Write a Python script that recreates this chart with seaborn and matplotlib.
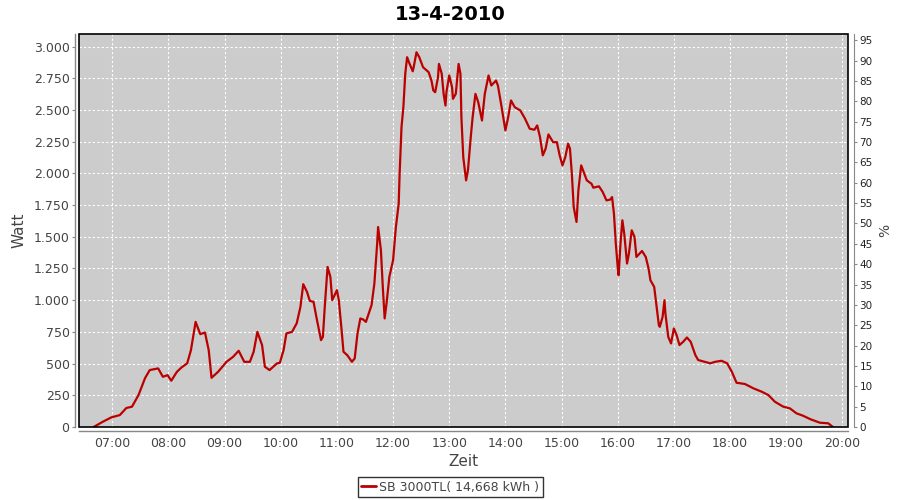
import pandas as pd
import seaborn as sns
import matplotlib.pyplot as plt
import matplotlib.dates as mdates
from matplotlib.patches import Rectangle
from matplotlib.lines import Line2D

# inverter output
times = [
    "06:40", "06:50", "06:59", "07:08", "07:15", "07:21", "07:28", "07:35", "07:40", "07:49",
    "07:54", "07:59", "08:03", "08:09", "08:14", "08:20", "08:24", "08:29", "08:34", "08:39",
    "08:43", "08:46", "08:53", "09:02", "09:09", "09:15", "09:21", "09:27", "09:31", "09:35",
    "09:40", "09:43", "09:48", "09:56", "09:59", "10:03", "10:06", "10:12", "10:17", "10:21",
    "10:24", "10:28", "10:31", "10:35", "10:38", "10:43", "10:45", "10:47", "10:50", "10:53",
    "10:55", "11:00", "11:02", "11:05", "11:07", "11:11", "11:16", "11:19", "11:22", "11:25",
    "11:28", "11:31", "11:34", "11:37", "11:40", "11:43", "11:44", "11:47", "11:49", "11:51",
    "11:53", "11:56", "12:00", "12:03", "12:06", "12:07", "12:09", "12:11", "12:13", "12:15",
    "12:17", "12:21", "12:22", "12:25", "12:28", "12:32", "12:38", "12:41", "12:43", "12:45",
    "12:48", "12:49", "12:52", "12:54", "12:56", "12:57", "13:00", "13:03", "13:04", "13:07",
    "13:10", "13:12", "13:13", "13:15", "13:18", "13:20", "13:23", "13:25", "13:28", "13:31",
    "13:35", "13:38", "13:42", "13:45", "13:50", "13:52", "13:56", "14:00", "14:03", "14:06",
    "14:10", "14:16", "14:21", "14:26", "14:31", "14:34", "14:37", "14:40", "14:43", "14:46",
    "14:51", "14:55", "14:58", "15:01", "15:04", "15:07", "15:09", "15:11", "15:13", "15:16",
    "15:18", "15:21", "15:23", "15:27", "15:32", "15:34", "15:40", "15:44", "15:48", "15:52",
    "15:54", "15:56", "15:58", "16:00", "16:01", "16:03", "16:05", "16:07", "16:10", "16:12",
    "16:15", "16:18", "16:20", "16:26", "16:30", "16:33", "16:35", "16:39", "16:42", "16:44",
    "16:45", "16:48", "16:50", "16:51", "16:54", "16:57", "17:00", "17:03", "17:06", "17:10",
    "17:14", "17:18", "17:23", "17:26", "17:33", "17:39", "17:44", "17:51", "17:57", "18:02",
    "18:07", "18:16", "18:25", "18:34", "18:41", "18:48", "18:57", "19:04", "19:11", "19:18",
    "19:26", "19:36", "19:45", "19:50",
]
watt = [
    0, 42, 76, 94, 150, 160, 252, 386, 449, 462,
    396, 409, 365, 435, 470, 502, 606, 829, 732, 745,
    606, 388, 435, 514, 553, 601, 514, 514, 593, 750,
    646, 475, 449, 502, 506, 606, 738, 750, 817, 947,
    1126, 1066, 995, 987, 869, 685, 711, 947, 1262, 1183,
    1000, 1079, 1000, 764, 593, 567, 514, 541, 738, 856,
    848, 829, 895, 961, 1131, 1446, 1577, 1394, 1105, 856,
    974, 1183, 1315, 1577, 1761, 1998, 2365, 2522, 2785, 2916,
    2876, 2805, 2837, 2955, 2916, 2837, 2798, 2732, 2654, 2640,
    2758, 2863, 2785, 2627, 2535, 2640, 2772, 2680, 2588, 2627,
    2863, 2785, 2443, 2128, 1945, 2024, 2286, 2443, 2627, 2561,
    2417, 2627, 2772, 2693, 2732, 2693, 2522, 2339, 2443, 2575,
    2522, 2496, 2431, 2352, 2344, 2378, 2286, 2142, 2195, 2307,
    2246, 2246, 2142, 2063, 2128, 2234, 2195, 1998, 1735, 1617,
    1866, 2063, 2024, 1945, 1918, 1887, 1898, 1853, 1787, 1793,
    1813, 1683, 1446, 1262, 1197, 1446, 1630, 1525, 1289, 1368,
    1551, 1498, 1341, 1388, 1341, 1250, 1157, 1105, 921, 803,
    790, 869, 1000, 895, 711, 659, 777, 724, 646, 672,
    706, 672, 567, 528, 514, 502, 514, 522, 502, 435,
    349, 339, 305, 278, 252, 199, 160, 147, 108, 89,
    61, 34, 29, 0,
]
watt_ticks = list(range(0, 3001, 250))
pct_ticks = list(range(0, 96, 5))
day = "2010-04-13"
title = "13-4-2010"
series_label = "SB 3000TL( 14,668 kWh )"

df = pd.DataFrame({"time": pd.to_datetime([day + " " + t for t in times]),
                   "watt": watt})

sns.set_style("white")
plt.rcParams["font.family"] = ["DejaVu Sans"]

grey_txt = "#444444"
axis_grey = "#888888"
red = "#BB0000"

fig = plt.figure(figsize=(9, 5), dpi=100)
ax = fig.add_axes([79.3 / 900, 1 - 427 / 500, (848.3 - 79.3) / 900, (427 - 34) / 500])
ax.set_facecolor("#CCCCCC")

sns.lineplot(data=df, x="time", y="watt", ax=ax, color=red, linewidth=1.6,
             legend=False, zorder=3)

ymax = 3099
ax.set_ylim(0, ymax)
ax.set_xlim(pd.Timestamp(day + " 06:24:43"), pd.Timestamp(day + " 20:06:25"))
ax.set_yticks(watt_ticks)
ax.set_yticklabels([f"{v:,.0f}".replace(",", ".") for v in watt_ticks])
ax.xaxis.set_major_locator(mdates.HourLocator())
ax.xaxis.set_major_formatter(mdates.DateFormatter("%H:%M"))

ax.grid(True, color="white", linestyle=(0, (2, 2)), linewidth=0.8)
ax.set_axisbelow(True)

for side in ["top", "right"]:
    ax.spines[side].set_visible(False)
for side in ["left", "bottom"]:
    ax.spines[side].set_position(("outward", 3))
    ax.spines[side].set_color(axis_grey)
    ax.spines[side].set_linewidth(1)
ax.tick_params(axis="both", length=2, width=0.8, color=axis_grey,
               labelsize=9, labelcolor=grey_txt, pad=2)
ax.set_xlabel("Zeit", fontsize=11, color=grey_txt, labelpad=3)
ax.set_ylabel("Watt", fontsize=11, color=grey_txt, labelpad=5)

# black plot outline
ax.add_patch(Rectangle((0, 0), 1, 1, transform=ax.transAxes, fill=False,
                       edgecolor="black", linewidth=1.2, zorder=5, clip_on=False))

# percentage axis on the right
ax2 = ax.twinx()
ax2.set_ylim(0, ymax / 32.1)
ax2.set_yticks(pct_ticks)
for side in ["top", "left", "bottom"]:
    ax2.spines[side].set_visible(False)
ax2.spines["right"].set_position(("outward", 4))
ax2.spines["right"].set_color(axis_grey)
ax2.tick_params(axis="y", length=2, width=0.8, color=axis_grey,
                labelsize=7.5, labelcolor="#222222", pad=2)
ax2.set_ylabel("%", fontsize=10, color=grey_txt, labelpad=4)

fig.text(0.5, 1 - 14 / 500, title, ha="center", va="center",
         fontsize=14, fontweight="bold", color="black")

handle = Line2D([], [], color=red, linewidth=2)
leg = fig.legend([handle], [series_label], loc="center",
                 bbox_to_anchor=(450 / 900, 1 - 487 / 500), frameon=True,
                 fancybox=False, edgecolor="black", fontsize=9,
                 handlelength=1.2, handletextpad=0.3, borderpad=0.25,
                 borderaxespad=0)
leg.get_frame().set_linewidth(1)
for txt in leg.get_texts():
    txt.set_color(grey_txt)

fig.savefig("out.png", dpi=100, facecolor="white")
